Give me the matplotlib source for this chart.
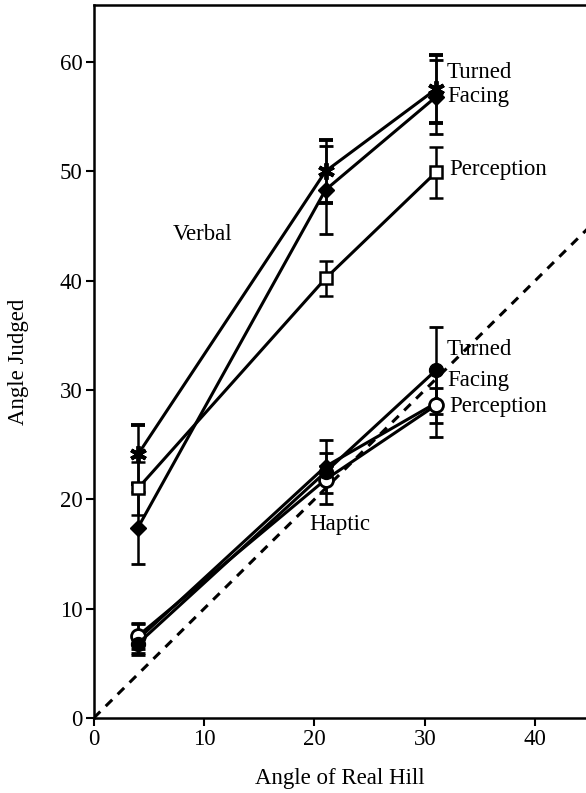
import matplotlib.pyplot as plt
import numpy as np

plt.rcParams['font.family'] = ['Liberation Serif', 'DejaVu Serif']

hill = [4, 21, 31]

# verbal judgements
verbal_turned = [24.1, 50.0, 57.5]
verbal_turned_err = [2.7, 2.9, 3.1]
verbal_facing = [17.4, 48.3, 56.8]
verbal_facing_err = [3.3, 4.0, 3.4]
verbal_perc = [21.0, 40.2, 49.9]
verbal_perc_err = [2.4, 1.6, 2.3]

# haptic judgements
haptic_turned = [6.8, 22.5, 31.8]
haptic_turned_err = [0.9, 2.9, 4.0]
haptic_facing = [7.2, 23.0, 28.8]
haptic_facing_err = [1.4, 1.2, 3.1]
haptic_perc = [7.5, 21.8, 28.6]
haptic_perc_err = [1.2, 1.2, 1.6]

fig = plt.figure(figsize=(5.86, 7.93), dpi=100)
ax = fig.add_axes([0.160, 0.0946, 0.840, 0.899])

diag = np.array([0, 50])
ax.plot(diag, diag, color='black', lw=2.2, ls=(0, (3, 2.5)), zorder=1)

ekw = dict(color='black', lw=2.2, elinewidth=1.8, capsize=5, capthick=2, zorder=3)
ax.errorbar(hill, verbal_perc, yerr=verbal_perc_err, marker='s', ms=9,
            mfc='white', mec='black', mew=1.8, **ekw)
ax.errorbar(hill, verbal_facing, yerr=verbal_facing_err, marker='D', ms=8,
            mfc='black', mec='black', **ekw)
ax.errorbar(hill, verbal_turned, yerr=verbal_turned_err, marker=(6, 2, 0), ms=12,
            mfc='black', mec='black', mew=2.8, **ekw)

ax.errorbar(hill, haptic_facing, yerr=haptic_facing_err, marker='D', ms=7,
            mfc='black', mec='black', **ekw)
ax.errorbar(hill, haptic_perc, yerr=haptic_perc_err, marker='o', ms=10,
            mfc='white', mec='black', mew=2, **ekw)
ax.errorbar(hill, haptic_turned, yerr=haptic_turned_err, marker='o', ms=10,
            mfc='black', mec='black', **ekw)

fs = 16.5
ax.text(32.0, 59.0, 'Turned', fontsize=fs, va='center')
ax.text(32.0, 56.8, 'Facing', fontsize=fs, va='center')
ax.text(32.2, 50.2, 'Perception', fontsize=fs, va='center')
ax.text(7.2, 44.2, 'Verbal', fontsize=fs, va='center')
ax.text(32.0, 33.7, 'Turned', fontsize=fs, va='center')
ax.text(32.0, 30.9, 'Facing', fontsize=fs, va='center')
ax.text(32.2, 28.5, 'Perception', fontsize=fs, va='center')
ax.text(19.5, 17.7, 'Haptic', fontsize=fs, va='center')

ax.set_xlim(0, 44.6)
ax.set_ylim(0, 65.2)
ax.set_xticks([0, 10, 20, 30, 40])
ax.set_yticks([0, 10, 20, 30, 40, 50, 60])
ax.tick_params(direction='out', length=6, width=1.5, labelsize=fs, pad=2)
ax.spines['right'].set_visible(False)
for s in ['left', 'bottom', 'top']:
    ax.spines[s].set_linewidth(1.8)

ax.set_xlabel('Angle of Real Hill', fontsize=fs, labelpad=13)
ax.set_ylabel('Angle Judged', fontsize=fs, labelpad=22)

fig.savefig('out.png', dpi=100)
